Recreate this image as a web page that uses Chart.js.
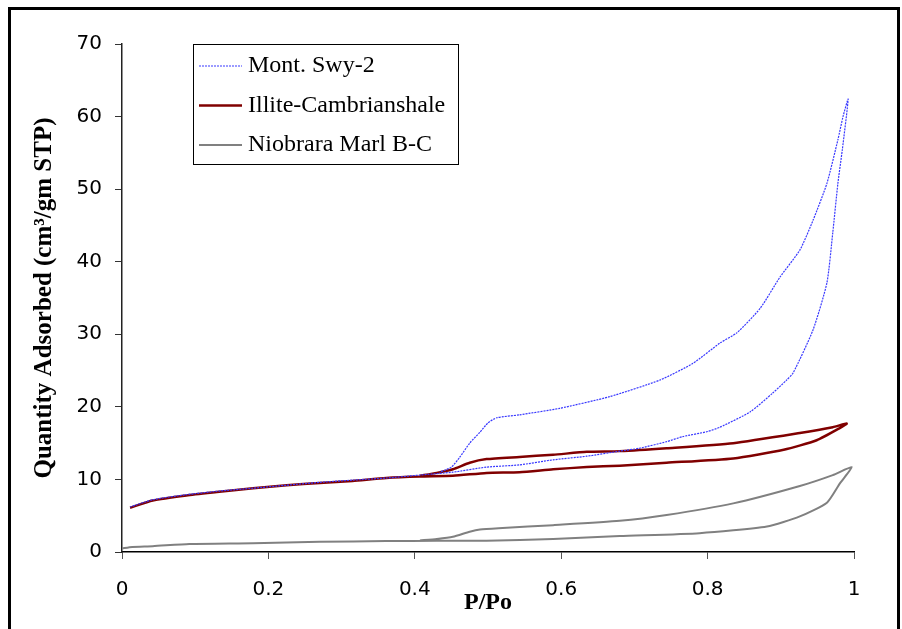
<!DOCTYPE html>
<html>
<head>
<meta charset="utf-8">
<title>Isotherms</title>
<script src="https://cdn.jsdelivr.net/npm/chart.js@4.4.1/dist/chart.umd.min.js"></script>
<style>
  body { margin: 0; background: #fff; }
  #wrap { position: relative; width: 902px; height: 629px; overflow: hidden; }
  #frame { position: absolute; left: 8px; top: 7px; width: 892px; height: 660px; border: 3px solid #000; box-sizing: border-box; pointer-events: none; }
</style>
</head>
<body>
<div id="wrap">
  <canvas id="myChart" width="902" height="629"></canvas>
  <div id="frame"></div>
</div>
<script>
// series names
var seriesNames = ['Mont. Swy-2', 'Illite-Cambrianshale', 'Niobrara Marl B-C'];

// Mont. Swy-2 : adsorption branch then desorption branch back down
var montX = [0.011, 0.042, 0.088, 0.133, 0.179, 0.225, 0.270, 0.315, 0.361, 0.407, 0.452, 0.498, 0.543, 0.589, 0.635, 0.680, 0.707, 0.744, 0.766, 0.800, 0.817, 0.858, 0.889, 0.908, 0.917, 0.944, 0.963, 0.971, 0.978, 0.984, 0.992,
             0.985, 0.978, 0.963, 0.944, 0.926, 0.899, 0.872, 0.840, 0.817, 0.780, 0.735, 0.666, 0.598, 0.543, 0.512, 0.500, 0.489, 0.475, 0.461, 0.450, 0.434];
var montY = [6.2, 7.2, 7.9, 8.4, 8.8, 9.2, 9.6, 9.9, 10.2, 10.6, 11.0, 11.7, 12.0, 12.7, 13.2, 13.9, 14.3, 15.2, 15.9, 16.6, 17.2, 19.3, 21.9, 23.7, 24.7, 30.6, 37.1, 44.0, 50.8, 55.4, 62.4,
             60.0, 56.8, 50.8, 45.7, 41.6, 37.9, 33.6, 30.2, 28.8, 26.0, 23.7, 21.4, 19.8, 18.9, 18.5, 17.8, 16.5, 15.0, 13.0, 11.7, 11.0];

// Illite-Cambrianshale
var illiteX = [0.011, 0.042, 0.088, 0.133, 0.179, 0.225, 0.270, 0.315, 0.361, 0.407, 0.452, 0.498, 0.543, 0.589, 0.635, 0.680, 0.744, 0.835, 0.904, 0.949, 0.981, 0.990,
               0.971, 0.926, 0.835, 0.744, 0.680, 0.635, 0.589, 0.543, 0.498, 0.475, 0.452, 0.430, 0.407];
var illiteY = [6.1, 7.1, 7.8, 8.3, 8.8, 9.2, 9.5, 9.8, 10.2, 10.4, 10.5, 10.9, 11.0, 11.4, 11.7, 11.9, 12.3, 12.9, 14.1, 15.4, 17.1, 17.7,
               17.2, 16.4, 15.0, 14.3, 13.9, 13.8, 13.4, 13.1, 12.8, 12.3, 11.4, 10.9, 10.5];

// Niobrara Marl B-C
var niobX = [0.0, 0.014, 0.042, 0.092, 0.179, 0.270, 0.361, 0.430, 0.498, 0.589, 0.680, 0.789, 0.881, 0.926, 0.963, 0.981, 0.997,
             0.971, 0.926, 0.835, 0.744, 0.680, 0.589, 0.520, 0.489, 0.475, 0.452, 0.430, 0.407];
var niobY = [0.5, 0.7, 0.8, 1.1, 1.2, 1.4, 1.5, 1.55, 1.55, 1.8, 2.2, 2.6, 3.5, 4.9, 6.8, 9.5, 11.7,
             10.6, 9.1, 6.7, 5.1, 4.3, 3.7, 3.3, 3.1, 2.8, 2.1, 1.8, 1.6];

// axis ticks
var xTicks = [0, 0.2, 0.4, 0.6, 0.8, 1];
var yTicks = [0, 10, 20, 30, 40, 50, 60, 70];

function toPoints(xs, ys) {
    return xs.map(function (x, i) { return { x: x, y: ys[i] }; });
}

// legend drawn as a boxed key inside the plot, like the original
var boxLegend = {
    id: 'boxLegend',
    afterDraw: function (chart) {
        var ctx = chart.ctx;
        ctx.save();
        ctx.fillStyle = '#fff';
        ctx.fillRect(193.5, 44.5, 265, 120);
        ctx.strokeStyle = '#000';
        ctx.lineWidth = 1;
        ctx.strokeRect(193.5, 44.5, 265, 120);
        chart.data.datasets.forEach(function (ds, i) {
            var y = 66 + 39.5 * i;
            ctx.beginPath();
            ctx.strokeStyle = ds.borderColor;
            ctx.lineWidth = ds.borderWidth;
            ctx.setLineDash(ds.borderDash || []);
            ctx.moveTo(199, y);
            ctx.lineTo(242, y);
            ctx.stroke();
            ctx.setLineDash([]);
            ctx.fillStyle = '#000';
            ctx.font = '24px "Liberation Serif"';
            ctx.textBaseline = 'middle';
            ctx.fillText(ds.label, 248, y);
        });
        ctx.restore();
    }
};

var ctx = document.getElementById('myChart').getContext('2d');
var myChart = new Chart(ctx, {
    type: 'scatter',
    data: {
        datasets: [{
            label: seriesNames[0],
            data: toPoints(montX, montY),
            borderColor: '#3838ff',
            borderWidth: 1.2,
            borderDash: [2, 1],
            showLine: true,
            pointRadius: 0,
            tension: 0.2
        }, {
            label: seriesNames[1],
            data: toPoints(illiteX, illiteY),
            borderColor: '#800000',
            borderWidth: 2.5,
            showLine: true,
            pointRadius: 0,
            tension: 0.2
        }, {
            label: seriesNames[2],
            data: toPoints(niobX, niobY),
            borderColor: '#808080',
            borderWidth: 2,
            showLine: true,
            pointRadius: 0,
            tension: 0.2
        }]
    },
    options: {
        responsive: false,
        animation: false,
        layout: { padding: { top: 44, right: 48, bottom: 0, left: 0 } },
        plugins: {
            legend: { display: false },
            tooltip: { enabled: false }
        },
        scales: {
            x: {
                type: 'linear',
                min: 0,
                max: 1,
                afterFit: function (scale) { scale.height = 77; },
                afterBuildTicks: function (scale) {
                    scale.ticks = xTicks.map(function (v) { return { value: v }; });
                },
                ticks: {
                    padding: 19,
                    color: '#000',
                    font: { family: '"DejaVu Sans"', size: 20 },
                    maxRotation: 0,
                    callback: function (v) { return String(Math.round(v * 10) / 10); }
                },
                grid: { display: true, drawOnChartArea: false, drawTicks: true, tickLength: 7, color: '#555' },
                border: { display: true, color: '#000', width: 1.5 },
                title: {
                    display: true,
                    text: 'P/Po',
                    color: '#000',
                    font: { family: '"Liberation Serif"', size: 24, weight: 'bold' },
                    padding: { top: 0, bottom: 11.6 }
                }
            },
            y: {
                type: 'linear',
                min: 0,
                max: 70,
                afterFit: function (scale) { scale.width = 122; },
                afterBuildTicks: function (scale) {
                    scale.ticks = yTicks.map(function (v) { return { value: v }; });
                },
                ticks: {
                    padding: 13,
                    color: '#000',
                    font: { family: '"DejaVu Sans"', size: 20 }
                },
                grid: { display: true, drawOnChartArea: false, drawTicks: true, tickLength: 7, color: '#333' },
                border: { display: true, color: '#222', width: 1.5 },
                title: {
                    display: true,
                    text: 'Quantity Adsorbed (cm\u00B3/gm STP)',
                    color: '#000',
                    font: { family: '"Liberation Serif"', size: 25, weight: 'bold' },
                    padding: { top: 30, bottom: 0 }
                }
            }
        }
    },
    plugins: [boxLegend]
});
</script>
</body>
</html>
